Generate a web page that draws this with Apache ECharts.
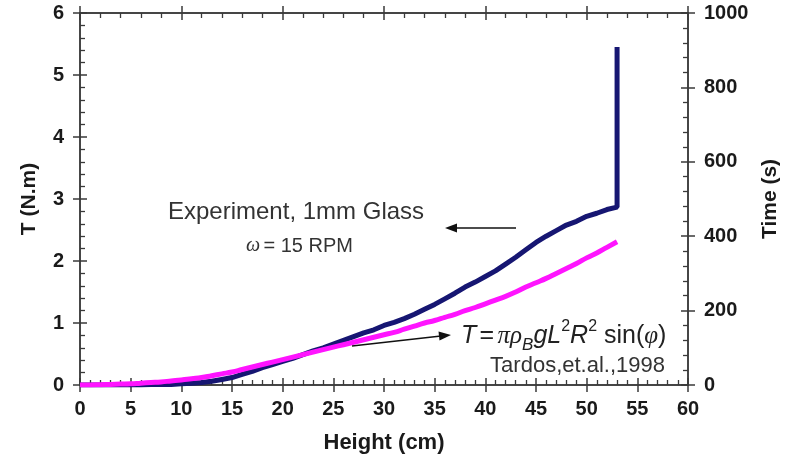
<!DOCTYPE html>
<html>
<head>
<meta charset="utf-8">
<script src="https://cdn.jsdelivr.net/npm/echarts@6/dist/echarts.min.js"></script>
<style>html,body{margin:0;padding:0;background:#fff;}#c{width:789px;height:469px;}</style>
</head>
<body>
<div id="c"></div>
<script>
// Height (cm) for experiment samples
const expHeight = [0,1,2,3,4,5,6,7,8,9,10,11,12,13,14,15,16,17,18,19,20,21,22,23,24,25,26,27,28,29,30,31,32,33,34,35,36,37,38,39,40,41,42,43,44,45,46,47,48,49,50,51,52,53,53];
// Torque T (N.m), experiment 1mm glass (last point: final spike)
const expTorque = [0,0,0,0,0,0,0,0.01,0.01,0.01,0.02,0.03,0.04,0.06,0.09,0.12,0.17,0.22,0.28,0.33,0.38,0.43,0.49,0.55,0.60,0.66,0.72,0.78,0.84,0.89,0.96,1.01,1.07,1.14,1.22,1.30,1.39,1.48,1.58,1.66,1.75,1.84,1.95,2.06,2.18,2.30,2.40,2.49,2.58,2.64,2.72,2.77,2.83,2.87,5.45];
// Height (cm) for theory curve
const theoHeight = [0,1,2,3,4,5,6,7,8,9,10,11,12,13,14,15,16,17,18,19,20,21,22,23,24,25,26,27,28,29,30,31,32,33,34,35,36,37,38,39,40,41,42,43,44,45,46,47,48,49,50,51,52,53];
// Torque T (N.m), Tardos et al. 1998
const theoTorque = [0,0,0.005,0.01,0.015,0.02,0.03,0.04,0.05,0.065,0.08,0.10,0.12,0.15,0.18,0.21,0.25,0.29,0.33,0.37,0.41,0.45,0.49,0.53,0.57,0.61,0.65,0.69,0.73,0.77,0.81,0.85,0.90,0.95,1.00,1.04,1.09,1.14,1.20,1.25,1.31,1.37,1.43,1.50,1.58,1.65,1.72,1.80,1.88,1.96,2.05,2.13,2.22,2.31];
// axis ranges / ticks
const xRange = [0, 60], xStep = 5, xTopStep = 10;
const yRange = [0, 6], yStep = 1;
const tRange = [0, 1000], tStep = 200;

const expData = expHeight.map((h, i) => [h, expTorque[i]]);
const theoData = theoHeight.map((h, i) => [h, theoTorque[i]]);

const FONT = 'Liberation Sans';
const LC = '#3a3a3a';
const gridRect = {left: 80, right: 101, top: 13, bottom: 84, outerBoundsMode: 'none'};

function xAx(grid, pos, interval, inside, withLabel, minor) {
  return {
    type: 'value', gridIndex: grid, position: pos, min: xRange[0], max: xRange[1], interval: interval,
    axisLine: {show: true, onZero: false, lineStyle: {color: LC, width: 1.5}},
    axisTick: {show: true, inside: inside, length: 7, lineStyle: {color: LC, width: 1.5}},
    minorTick: {show: !!minor, splitNumber: minor || 5, length: 5, lineStyle: {color: LC, width: 1.3}},
    splitLine: {show: false}, minorSplitLine: {show: false},
    axisLabel: {show: withLabel, margin: 14, color: '#1a1a1a', fontFamily: FONT, fontWeight: 'bold', fontSize: 20, showMinLabel: true, showMaxLabel: true, formatter: v => String(v)},
    name: withLabel ? 'Height (cm)' : '', nameLocation: 'middle', nameGap: 47,
    nameTextStyle: {color: '#1a1a1a', fontFamily: FONT, fontWeight: 'bold', fontSize: 22}
  };
}
function yAx(grid, pos, range, interval, inside, withLabel, minor, name, gap) {
  return {
    type: 'value', gridIndex: grid, position: pos, min: range[0], max: range[1], interval: interval,
    axisLine: {show: true, onZero: false, lineStyle: {color: LC, width: 1.5}},
    axisTick: {show: true, inside: inside, length: 7, lineStyle: {color: LC, width: 1.5}},
    minorTick: {show: !!minor, splitNumber: minor || 5, length: 5, lineStyle: {color: LC, width: 1.3}},
    splitLine: {show: false}, minorSplitLine: {show: false},
    axisLabel: {show: withLabel, margin: 16, color: '#1a1a1a', fontFamily: FONT, fontWeight: 'bold', fontSize: 20, showMinLabel: true, showMaxLabel: true, formatter: v => String(v)},
    name: withLabel ? name : '', nameLocation: 'middle', nameGap: gap || 40, nameRotate: 90,
    nameTextStyle: {color: '#1a1a1a', fontFamily: FONT, fontWeight: 'bold', fontSize: 21}
  };
}

const chart = echarts.init(document.getElementById('c'), null, {renderer: 'canvas'});
chart.setOption({
  backgroundColor: '#fff',
  animation: false,
  grid: [Object.assign({}, gridRect), Object.assign({}, gridRect)],
  xAxis: [
    xAx(0, 'bottom', xStep, false, true, 0),
    xAx(0, 'top', xTopStep, true, false, 5),
    xAx(1, 'bottom', xStep, true, false, 5),
    xAx(1, 'top', xTopStep, false, false, 0)
  ],
  yAxis: [
    yAx(0, 'left', yRange, yStep, false, true, 0, 'T (N.m)', 40),
    yAx(0, 'right', tRange, tStep, false, true, 0, 'Time (s)', 46),
    yAx(1, 'left', yRange, yStep, true, false, 5),
    yAx(1, 'right', tRange, tStep, true, false, 5)
  ],
  series: [
    {type: 'line', name: 'Experiment', xAxisIndex: 0, yAxisIndex: 0, data: expData, showSymbol: false,
     lineStyle: {color: '#161672', width: 5}, z: 3},
    {type: 'line', name: 'Tardos', xAxisIndex: 0, yAxisIndex: 0, data: theoData, showSymbol: false, smooth: true,
     lineStyle: {color: '#ff14ff', width: 5}, z: 4}
  ],
  graphic: [
    {type: 'text', left: 168, top: 200, z: 10, style: {text: 'Experiment, 1mm Glass', fill: '#333', font: '24px "Liberation Sans"'}},
    {type: 'text', left: 246, top: 236, z: 10, style: {
      text: '{w|ω} {n|= 15 RPM}', fill: '#333',
      rich: {w: {fontFamily: 'Liberation Serif', fontStyle: 'italic', fontSize: 20, fill: '#333'},
             n: {fontFamily: 'Liberation Sans', fontSize: 20, fill: '#333'}}}},
    {type: 'line', z: 10, shape: {x1: 516, y1: 228, x2: 454, y2: 228}, style: {stroke: '#111', lineWidth: 1.5}},
    {type: 'polygon', z: 10, shape: {points: [[445, 228], [457, 223.5], [457, 232.5]]}, style: {fill: '#111'}},
    {type: 'line', z: 10, shape: {x1: 352, y1: 346, x2: 441, y2: 336}, style: {stroke: '#111', lineWidth: 1.5}},
    {type: 'polygon', z: 10, shape: {points: [[451, 335], [439.5, 340.5], [438.5, 331.5]]}, style: {fill: '#111'}},
    {type: 'text', left: 461, top: 319, z: 10, style: {
      text: '{i|T} {n|=} {s|πρ}{sub|B}{i|gL}{sup|2}{i|R}{sup|2}{n| sin(}{s|φ}{n|)}', fill: '#222',
      rich: {
        i: {fontFamily: 'Liberation Sans', fontStyle: 'italic', fontSize: 25, lineHeight: 35, verticalAlign: 'middle', fill: '#222'},
        n: {fontFamily: 'Liberation Sans', fontSize: 25, lineHeight: 35, verticalAlign: 'middle', fill: '#222'},
        s: {fontFamily: 'Liberation Serif', fontStyle: 'italic', fontSize: 25, lineHeight: 35, verticalAlign: 'middle', fill: '#222'},
        sub: {fontFamily: 'Liberation Sans', fontStyle: 'italic', fontSize: 17, lineHeight: 16, verticalAlign: 'bottom', fill: '#222'},
        sup: {fontFamily: 'Liberation Sans', fontSize: 16, lineHeight: 15, verticalAlign: 'top', fill: '#222'}
      }}},
    {type: 'text', right: 789 - 665, top: 355, z: 10, style: {text: 'Tardos,et.al.,1998', fill: '#333', font: '22px "Liberation Sans"', textAlign: 'right'}}
  ]
});
</script>
</body>
</html>
